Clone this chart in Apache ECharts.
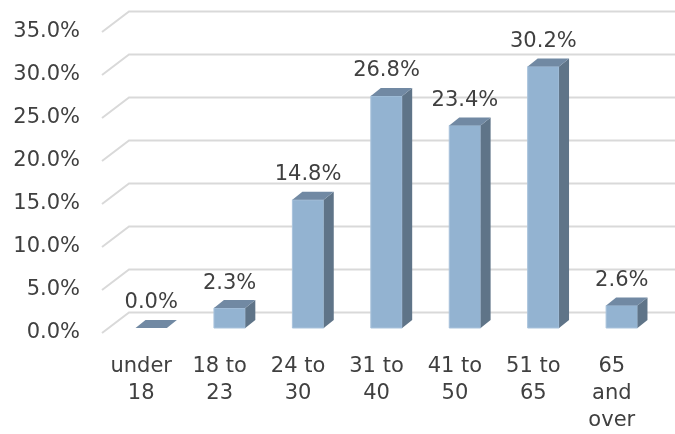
<!DOCTYPE html>
<html>
<head>
<meta charset="utf-8">
<script src="https://cdn.jsdelivr.net/npm/echarts@6/dist/echarts.min.js"></script>
<style>html,body{margin:0;padding:0;background:#fff;}#c{width:675px;height:434px;}</style>
</head>
<body>
<div id="c"></div>
<script>
const categories = ["under 18", "18 to 23", "24 to 30", "31 to 40", "41 to 50", "51 to 65", "65 and over"];
const values = [0.0, 2.3, 14.8, 26.8, 23.4, 30.2, 2.6];
const yTicks = [0, 5, 10, 15, 20, 25, 30, 35];

const FONT = "DejaVu Sans";
const TEXT = "#404040";
const chart = echarts.init(document.getElementById('c'), null, {renderer: 'canvas'});

function catLabel(s) {
  if (s.indexOf(' to ') >= 0) return s.replace(' to ', ' to\n');
  return s.split(' ').join('\n');
}

chart.setOption({
  animation: false,
  grid: [
    {left: 102, right: 24, top: 32, bottom: 99},
    {left: 112, right: 14, top: 25, bottom: 106}
  ],
  xAxis: [
    {gridIndex: 0, type: 'category', data: categories,
     axisLine: {show: false}, axisTick: {show: false}, splitLine: {show: false},
     axisLabel: {interval: 0, margin: 20, color: TEXT, fontFamily: FONT, fontSize: 21, lineHeight: 27, formatter: catLabel}},
    {gridIndex: 1, type: 'category', data: categories, show: false}
  ],
  yAxis: [
    {gridIndex: 0, type: 'value', min: 0, max: 35, interval: 5,
     axisLine: {show: false}, axisTick: {show: false}, splitLine: {show: false},
     axisLabel: {margin: 22, color: TEXT, fontFamily: FONT, fontSize: 21, formatter: v => v.toFixed(1) + '%'}},
    {gridIndex: 1, type: 'value', min: 0, max: 35, show: false}
  ],
  series: [
    {
      type: 'custom', xAxisIndex: 0, yAxisIndex: 0, z: 1,
      data: yTicks.map(v => [0, v]),
      encode: {x: 0, y: 1},
      renderItem: function (params, api) {
        const y = api.coord([0, api.value(1)])[1];
        const x0 = params.coordSys.x;
        return {
          type: 'polyline',
          shape: {points: [[x0, y], [x0 + 27, y - 20.5], [api.getWidth(), y - 20.5]]},
          style: {stroke: '#d9d9d9', lineWidth: 2, fill: null}
        };
      }
    },
    {
      type: 'custom', xAxisIndex: 1, yAxisIndex: 1, z: 5,
      data: values.map((v, i) => [i, v]),
      encode: {x: 0, y: 1},
      renderItem: function (params, api) {
        const i = api.value(0), v = api.value(1);
        const top = api.coord([i, v]);
        const base = api.coord([i, 0]);
        const w = api.size([1, 0])[0] * 0.4;
        const x0 = top[0] - w / 2, x1 = x0 + w;
        const dx = 10, dy = -8;
        const children = [];
        if (base[1] - top[1] > 0.5) {
          children.push({type: 'rect', shape: {x: x0, y: top[1], width: w, height: base[1] - top[1]},
            style: {fill: '#93b3d1', stroke: '#a9c3dc', lineWidth: 1}});
          children.push({type: 'polygon', shape: {points: [[x1, top[1]], [x1 + dx, top[1] + dy], [x1 + dx, base[1] + dy], [x1, base[1]]]},
            style: {fill: '#5f7488'}});
        }
        children.push({type: 'polygon', shape: {points: [[x0, top[1]], [x0 + dx, top[1] + dy], [x1 + dx, top[1] + dy], [x1, top[1]]]},
          style: {fill: '#7189a3'}});
        children.push({type: 'text', style: {x: top[0], y: top[1] - 25, text: v.toFixed(1) + '%',
          align: 'center', verticalAlign: 'middle', fill: TEXT, font: '21px "' + FONT + '"'}});
        return {type: 'group', children: children};
      }
    }
  ]
});
</script>
</body>
</html>
